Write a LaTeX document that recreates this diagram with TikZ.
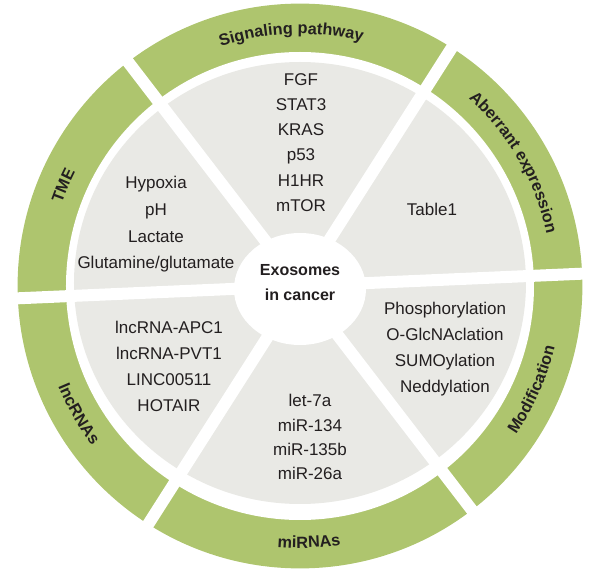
\documentclass[tikz,border=0pt]{standalone}
\usepackage{fontspec}
\setmainfont{Liberation Sans}
\usetikzlibrary{decorations.text}
\definecolor{ringgreen}{RGB}{174, 197, 110}
\definecolor{sectorgray}{RGB}{233, 233, 229}
\definecolor{inkdark}{RGB}{35, 31, 32}
\newcommand{\labelfont}{\bfseries\fontsize{11.6}{14}\selectfont}

\begin{document}
\begin{tikzpicture}[
  item/.style={font=\fontsize{12.1}{18.5}\selectfont, text=inkdark,
               align=center, anchor=base, inner sep=0pt},
  ringlabel/.style={decorate, decoration={text along path, text align=center,
               text color=inkdark, text={|\labelfont|#1}}},
]
\useasboundingbox (-7.5,-7.25) rectangle (7.525,7.15);

% Rings
\fill[ringgreen] (0,0) circle[radius=7.06];
\fill[white] (0,0) circle[radius=5.85];
\fill[sectorgray] (0,0.075) ellipse[x radius=5.65, y radius=5.525];

% Gaps
\foreach \a in {2.5, 57.5, 127.5, 182.5, 237.5, 307.5}
  \draw[white, line width=0.3cm] (0,0) -- (\a:7.3);
\fill[white] (0,-0.075) ellipse[x radius=1.65, y radius=1.4];

% Ring labels
\path[ringlabel={Signaling pathway}] (137:6.3) arc[start angle=137, end angle=47, radius=6.3];
\path[ringlabel={Aberrant expression}] (75:6.3) arc[start angle=75, end angle=-15, radius=6.3];
\path[ringlabel={TME}] (202:6.3) arc[start angle=202, end angle=112, radius=6.3];
\path[ringlabel={lncRNAs}] (165:6.55) arc[start angle=165, end angle=255, radius=6.55];
\path[ringlabel={miRNAs}] (227:6.55) arc[start angle=227, end angle=317, radius=6.55];
\path[ringlabel={Modification}] (291:6.55) arc[start angle=291, end angle=381, radius=6.55];

% Sectors (base = last line)
\node[item, font=\fontsize{12.1}{18}\selectfont] (sig) at (0.025, 1.86)
{FGF\\STAT3\\KRAS\\p53\\H1HR\\mTOR};
\node[item, font=\fontsize{12.1}{19}\selectfont] (tme) at (-3.6, 0.425)
{Hypoxia\\pH\\Lactate\\Glutamine/glutamate};
\node[item] (tab) at (3.3, 1.75) {Table1};
\node[item] (lnc) at (-3.275, -3.15)
{lncRNA-APC1\\lncRNA-PVT1\\LINC00511\\HOTAIR};
\node[item] (mod) at (3.625, -2.675)
{Phosphorylation\\O-GlcNAclation\\SUMOylation\\Neddylation};
\node[item, font=\fontsize{12.1}{17.4}\selectfont] (mir) at (0.25, -4.85)
{let-7a\\miR-134\\miR-135b\\miR-26a};

% Center
\node[item, font=\bfseries\fontsize{11.4}{17.8}\selectfont] (core) at (0, -0.375)
{Exosomes\\in cancer};
\end{tikzpicture}
\end{document}
